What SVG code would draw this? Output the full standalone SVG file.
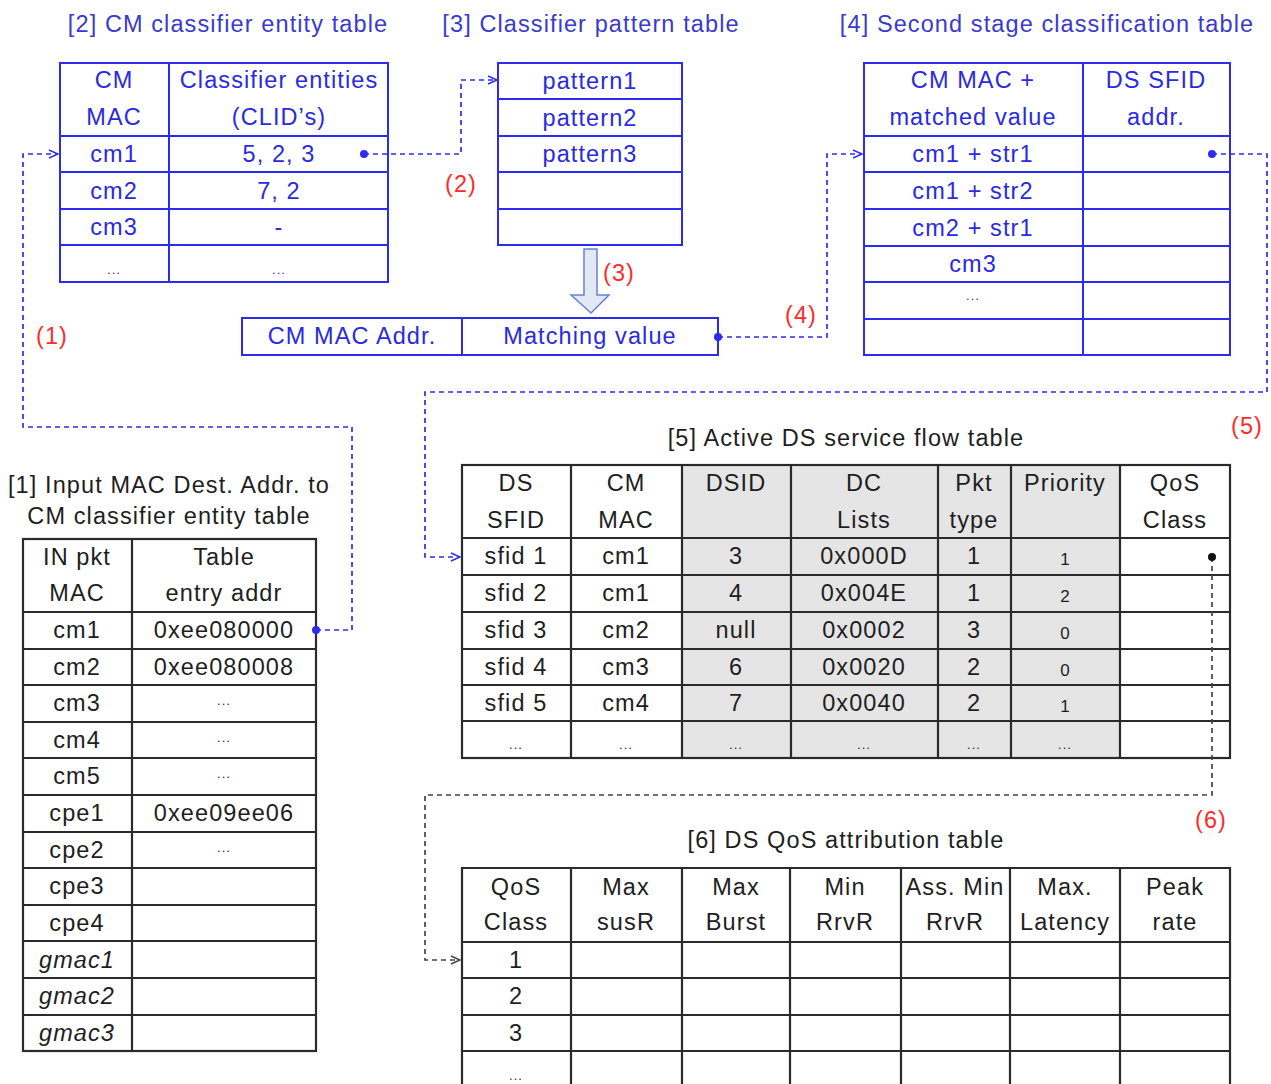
<svg xmlns="http://www.w3.org/2000/svg" width="1271" height="1084" viewBox="0 0 1271 1084">
<style>
text{font-family:"Liberation Sans",Arial,sans-serif;font-size:23.5px;letter-spacing:1.1px;text-anchor:middle}
.b{fill:#2a2ae0}
.k{fill:#1e1e1e}
.r{fill:#ff2a2a}
.bt{fill:#3a3acc}
.sm{font-size:13px;letter-spacing:1px}
.pr{font-size:17px;letter-spacing:0}
.it{font-style:italic}
.bl{stroke:#2c2cf0;stroke-width:2;fill:none}
.kl{stroke:#2a2a2a;stroke-width:2.2;fill:none}
.gr{fill:#e5e5e5;stroke:none}
.cb{stroke:#2c2cf0;stroke-width:1.7;fill:none;stroke-dasharray:5 4}
.ck{stroke:#444;stroke-width:1.7;fill:none;stroke-dasharray:5 4}
</style>
<defs>
<marker id="ab" markerWidth="12" markerHeight="10" refX="10" refY="5" orient="auto" markerUnits="userSpaceOnUse"><path d="M1,1 L10,5 L1,9" fill="none" stroke="#2c2cf0" stroke-width="1.4"/></marker>
<marker id="ak" markerWidth="12" markerHeight="10" refX="10" refY="5" orient="auto" markerUnits="userSpaceOnUse"><path d="M1,1 L10,5 L1,9" fill="none" stroke="#444" stroke-width="1.4"/></marker>
</defs>

<!-- Table 2 -->
<g id="table2">
<text class="bt" x="228" y="32">[2] CM classifier entity table</text>
<rect class="bl" x="60" y="63" width="328" height="219"/>
<path class="bl" d="M169,63V282M60,136H388M60,172H388M60,209H388M60,245H388"/>
<text class="b" x="114" y="88">CM</text>
<text class="b" x="114" y="125">MAC</text>
<text class="b" x="279" y="88">Classifier entities</text>
<text class="b" x="279" y="125">(CLID’s)</text>
<text class="b" x="114" y="162">cm1</text><text class="b" x="279" y="162">5, 2, 3</text>
<text class="b" x="114" y="199">cm2</text><text class="b" x="279" y="199">7, 2</text>
<text class="b" x="114" y="235">cm3</text><text class="b" x="279" y="235">-</text>
<text class="b sm" x="114" y="274">...</text><text class="b sm" x="279" y="274">...</text>
</g>

<!-- Table 3 -->
<g id="table3">
<text class="bt" x="591" y="32">[3] Classifier pattern table</text>
<rect class="bl" x="498" y="63" width="184" height="182"/>
<path class="bl" d="M498,99H682M498,136H682M498,172H682M498,209H682"/>
<text class="b" x="590" y="89">pattern1</text>
<text class="b" x="590" y="126">pattern2</text>
<text class="b" x="590" y="162">pattern3</text>
</g>

<!-- Block arrow 3 -->
<g id="arrow3">
<path d="M584,249H597V295H609L591,313L571,295H584Z" fill="#e2e8f4" stroke="#6a80d8" stroke-width="1.5"/>
</g>

<!-- Matching table -->
<g id="matching">
<rect class="bl" x="242" y="318" width="476" height="37"/>
<path class="bl" d="M462,318V355"/>
<text class="b" x="352" y="344">CM MAC Addr.</text>
<text class="b" x="590" y="344">Matching value</text>
</g>

<!-- Table 4 -->
<g id="table4">
<text class="bt" x="1047" y="32">[4] Second stage classification table</text>
<rect class="bl" x="864" y="63" width="366" height="292"/>
<path class="bl" d="M1083,63V355M864,136H1230M864,172H1230M864,209H1230M864,246H1230M864,282H1230M864,319H1230"/>
<text class="b" x="973" y="88">CM MAC +</text>
<text class="b" x="973" y="125">matched value</text>
<text class="b" x="1156" y="88">DS SFID</text>
<text class="b" x="1156" y="125">addr.</text>
<text class="b" x="973" y="162">cm1 + str1</text>
<text class="b" x="973" y="199">cm1 + str2</text>
<text class="b" x="973" y="236">cm2 + str1</text>
<text class="b" x="973" y="272">cm3</text>
<text class="b sm" x="973" y="300">...</text>
</g>

<!-- Table 1 -->
<g id="table1">
<text class="k" x="169" y="493">[1] Input MAC Dest. Addr. to</text>
<text class="k" x="169" y="524">CM classifier entity table</text>
<rect class="kl" x="23" y="539" width="293" height="512"/>
<path class="kl" d="M132,539V1051M23,612H316M23,649H316M23,685H316M23,722H316M23,758H316M23,795H316M23,832H316M23,868H316M23,905H316M23,941H316M23,978H316M23,1015H316"/>
<text class="k" x="77" y="565">IN pkt</text>
<text class="k" x="77" y="601">MAC</text>
<text class="k" x="224" y="565">Table</text>
<text class="k" x="224" y="601">entry addr</text>
<text class="k" x="77" y="638">cm1</text><text class="k" x="224" y="638">0xee080000</text>
<text class="k" x="77" y="675">cm2</text><text class="k" x="224" y="675">0xee080008</text>
<text class="k" x="77" y="711">cm3</text><text class="k sm" x="224" y="705">...</text>
<text class="k" x="77" y="748">cm4</text><text class="k sm" x="224" y="742">...</text>
<text class="k" x="77" y="784">cm5</text><text class="k sm" x="224" y="778">...</text>
<text class="k" x="77" y="821">cpe1</text><text class="k" x="224" y="821">0xee09ee06</text>
<text class="k" x="77" y="858">cpe2</text><text class="k sm" x="224" y="852">...</text>
<text class="k" x="77" y="894">cpe3</text>
<text class="k" x="77" y="931">cpe4</text>
<text class="k it" x="77" y="968">gmac1</text>
<text class="k it" x="77" y="1004">gmac2</text>
<text class="k it" x="77" y="1041">gmac3</text>
</g>

<!-- Table 5 -->
<g id="table5">
<text class="k" x="846" y="446">[5] Active DS service flow table</text>
<rect class="gr" x="682" y="465" width="438" height="293"/>
<rect class="kl" x="462" y="465" width="768" height="293"/>
<path class="kl" d="M571,465V758M682,465V758M791,465V758M938,465V758M1011,465V758M1120,465V758M462,538H1230M462,575H1230M462,612H1230M462,649H1230M462,685H1230M462,721H1230"/>
<text class="k" x="516" y="491">DS</text><text class="k" x="516" y="528">SFID</text>
<text class="k" x="626" y="491">CM</text><text class="k" x="626" y="528">MAC</text>
<text class="k" x="736" y="491">DSID</text>
<text class="k" x="864" y="491">DC</text><text class="k" x="864" y="528">Lists</text>
<text class="k" x="974" y="491">Pkt</text><text class="k" x="974" y="528">type</text>
<text class="k" x="1065" y="491">Priority</text>
<text class="k" x="1175" y="491">QoS</text><text class="k" x="1175" y="528">Class</text>

<text class="k" x="516" y="564">sfid 1</text><text class="k" x="626" y="564">cm1</text><text class="k" x="736" y="564">3</text><text class="k" x="864" y="564">0x000D</text><text class="k" x="974" y="564">1</text><text class="k pr" x="1065" y="565">1</text>
<text class="k" x="516" y="601">sfid 2</text><text class="k" x="626" y="601">cm1</text><text class="k" x="736" y="601">4</text><text class="k" x="864" y="601">0x004E</text><text class="k" x="974" y="601">1</text><text class="k pr" x="1065" y="602">2</text>
<text class="k" x="516" y="638">sfid 3</text><text class="k" x="626" y="638">cm2</text><text class="k" x="736" y="638">null</text><text class="k" x="864" y="638">0x0002</text><text class="k" x="974" y="638">3</text><text class="k pr" x="1065" y="639">0</text>
<text class="k" x="516" y="675">sfid 4</text><text class="k" x="626" y="675">cm3</text><text class="k" x="736" y="675">6</text><text class="k" x="864" y="675">0x0020</text><text class="k" x="974" y="675">2</text><text class="k pr" x="1065" y="676">0</text>
<text class="k" x="516" y="711">sfid 5</text><text class="k" x="626" y="711">cm4</text><text class="k" x="736" y="711">7</text><text class="k" x="864" y="711">0x0040</text><text class="k" x="974" y="711">2</text><text class="k pr" x="1065" y="712">1</text>
<text class="k sm" x="516" y="749">...</text><text class="k sm" x="626" y="749">...</text><text class="k sm" x="736" y="749">...</text><text class="k sm" x="864" y="749">...</text><text class="k sm" x="974" y="749">...</text><text class="k sm" x="1065" y="749">...</text>
</g>

<!-- Table 6 -->
<g id="table6">
<text class="k" x="846" y="848">[6] DS QoS attribution table</text>
<path class="kl" d="M462,1090V868H1230V1090M571,868V1090M682,868V1090M790,868V1090M901,868V1090M1010,868V1090M1120,868V1090M462,942H1230M462,978H1230M462,1015H1230M462,1051H1230"/>
<text class="k" x="516" y="895">QoS</text><text class="k" x="516" y="930">Class</text>
<text class="k" x="626" y="895">Max</text><text class="k" x="626" y="930">susR</text>
<text class="k" x="736" y="895">Max</text><text class="k" x="736" y="930">Burst</text>
<text class="k" x="845" y="895">Min</text><text class="k" x="845" y="930">RrvR</text>
<text class="k" x="955" y="895">Ass. Min</text><text class="k" x="955" y="930">RrvR</text>
<text class="k" x="1065" y="895">Max.</text><text class="k" x="1065" y="930">Latency</text>
<text class="k" x="1175" y="895">Peak</text><text class="k" x="1175" y="930">rate</text>
<text class="k" x="516" y="968">1</text>
<text class="k" x="516" y="1004">2</text>
<text class="k" x="516" y="1041">3</text>
<text class="k sm" x="516" y="1080">...</text>
</g>

<!-- Connectors -->
<g id="connectors">
<path class="cb" d="M316,630H352V427H23V154H58" marker-end="url(#ab)"/>
<path class="cb" d="M364,154H461V80H497" marker-end="url(#ab)"/>
<path class="cb" d="M718,337H827V154H862" marker-end="url(#ab)"/>
<path class="cb" d="M1212,154H1267V392H425V557H460" marker-end="url(#ab)"/>
<path class="ck" d="M1212,557V795H425V960H460" marker-end="url(#ak)"/>
<circle cx="316" cy="630" r="4" fill="#2c2cf0"/>
<circle cx="364" cy="154" r="4" fill="#2c2cf0"/>
<circle cx="718" cy="337" r="4" fill="#2c2cf0"/>
<circle cx="1212" cy="154" r="4" fill="#2c2cf0"/>
<circle cx="1212" cy="557" r="4" fill="#111"/>
</g>

<!-- Step labels -->
<g id="labels">
<text class="r" x="52" y="344">(1)</text>
<text class="r" x="461" y="192">(2)</text>
<text class="r" x="619" y="281">(3)</text>
<text class="r" x="801" y="323">(4)</text>
<text class="r" x="1247" y="434">(5)</text>
<text class="r" x="1211" y="828">(6)</text>
</g>
</svg>
